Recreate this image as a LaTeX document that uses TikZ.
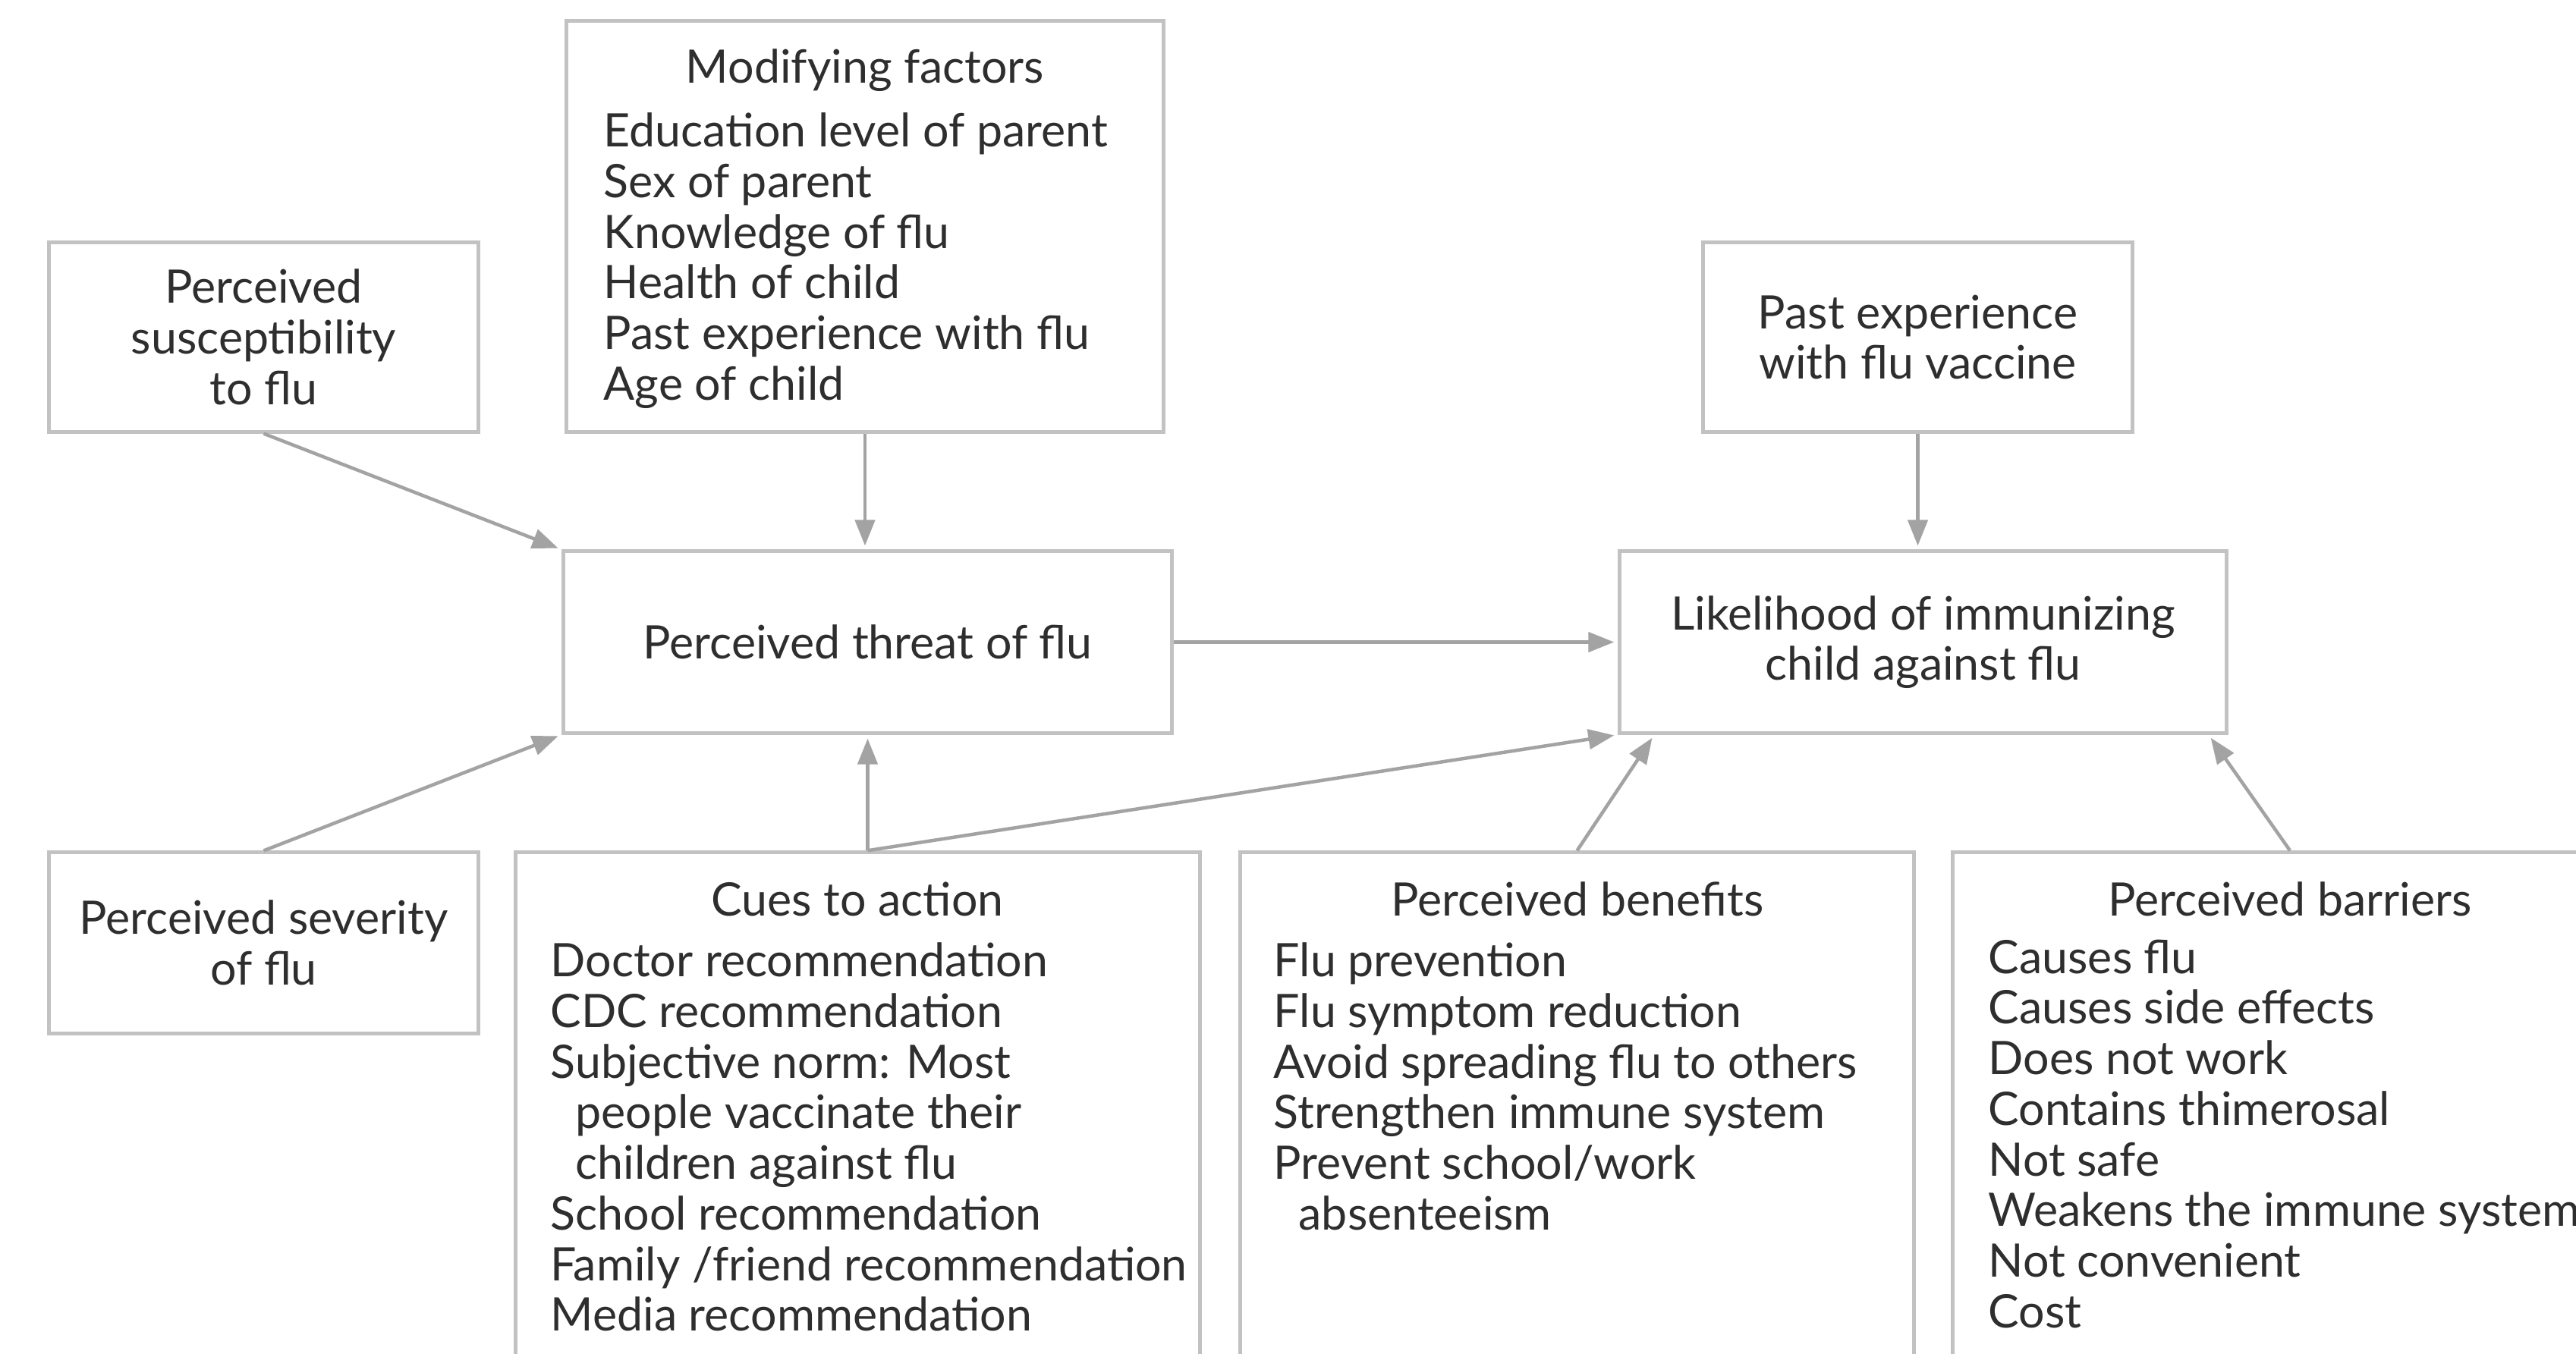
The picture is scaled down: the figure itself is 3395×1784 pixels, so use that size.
\documentclass[tikz,border=0pt]{standalone}
\usepackage{fontspec}
\setmainfont{Lato}
\usetikzlibrary{arrows.meta,calc}
\definecolor{boxgray}{HTML}{C2C2C2}
\definecolor{arrgray}{HTML}{A3A3A3}
\definecolor{txtgray}{HTML}{2E2E2E}
\newcommand\myfont{\fontsize{17.3}{18.98}\selectfont}
\begin{document}
\begin{tikzpicture}[x={(0.01cm,0)}, y={(0,-0.01cm)},
  box/.style={draw=boxgray, line width=0.05cm, rectangle, inner sep=0, text=txtgray, align=center, font=\myfont},
  listtext/.style={anchor=north west, inner sep=0, align=left, text=txtgray, font=\myfont},
  headtext/.style={anchor=north, inner sep=0, text=txtgray, font=\myfont},
  arr/.style={draw=arrgray, line width=0.045cm, shorten >=0.05cm, -{Triangle[length=0.34cm,width=0.26cm]}}]
\useasboundingbox (0,0) rectangle (3395,1784);
\clip (0,0) rectangle (3395,1784);
\fill[white] (0,0) rectangle (3395,1784);
% boxes
\node[box, minimum width=7.86cm, minimum height=5.41cm] (mod) at (1140,298.5) {};
\node[box, minimum width=5.65cm, minimum height=2.49cm] (sus) at (347.5,444.5) {Perceived\\susceptibility\\to flu};
\node[box, minimum width=5.65cm, minimum height=2.49cm] (pvac) at (2527.5,444.5) {Past experience\\with flu vaccine};
\node[box, minimum width=8.01cm, minimum height=2.39cm] (threat) at (1143.5,846.5) {Perceived threat of flu};
\node[box, minimum width=7.99cm, minimum height=2.39cm] (lik) at (2534.5,846.5) {Likelihood of immunizing\\child against flu};
\node[box, minimum width=5.65cm, minimum height=2.38cm] (sev) at (347.5,1243) {Perceived severity\\of flu};
\node[box, minimum width=9.01cm, minimum height=7.76cm] (cues) at (1130.5,1512) {};
\node[box, minimum width=8.87cm, minimum height=7.76cm] (ben) at (2078.5,1512) {};
\node[box, minimum width=8.88cm, minimum height=7.76cm] (bar) at (3018,1512) {};
% texts of list boxes
\node[headtext] (modhead) at (1140,64) {Modifying factors};
\node[listtext] (modlist) at (795,148) {Education level of parent\\Sex of parent\\Knowledge of flu\\Health of child\\Past experience with flu\\Age of child};
\node[headtext] (cueshead) at (1130,1162) {Cues to action};
\node[listtext] (cueslist) at (725,1242) {Doctor recommendation\\CDC recommendation\\Subjective norm: Most\\\hspace*{0.33cm}people vaccinate their\\\hspace*{0.33cm}children against flu\\School recommendation\\Family /friend recommendation\\Media recommendation};
\node[headtext] (benhead) at (2079,1162) {Perceived benefits};
\node[listtext] (benlist) at (1678,1242) {Flu prevention\\Flu symptom reduction\\Avoid spreading flu to others\\Strengthen immune system\\Prevent school/work\\\hspace*{0.33cm}absenteeism};
\node[headtext] (barhead) at (3018,1162) {Perceived barriers};
\node[listtext] (barlist) at (2620,1238) {Causes flu\\Causes side effects\\Does not work\\Contains thimerosal\\Not safe\\Weakens the immune system\\Not convenient\\Cost};
% connectors
\draw[arr] (sus.south) -- (threat.north west);
\draw[arr] (mod.south) -- (mod.south |- threat.north);
\draw[arr] (threat.east) -- (lik.west);
\draw[arr] (pvac.south) -- (pvac.south |- lik.north);
\draw[arr] (sev.north) -- (threat.south west);
\draw[arr] (cues.north -| threat.south) -- (threat.south);
\draw[arr] (cues.north -| threat.south) -- (lik.south west);
\draw[arr] (ben.north) -- ($(lik.south west)+(48,0)$);
\draw[arr] (bar.north) -- ($(lik.south east)+(-26,0)$);
\end{tikzpicture}
\end{document}
